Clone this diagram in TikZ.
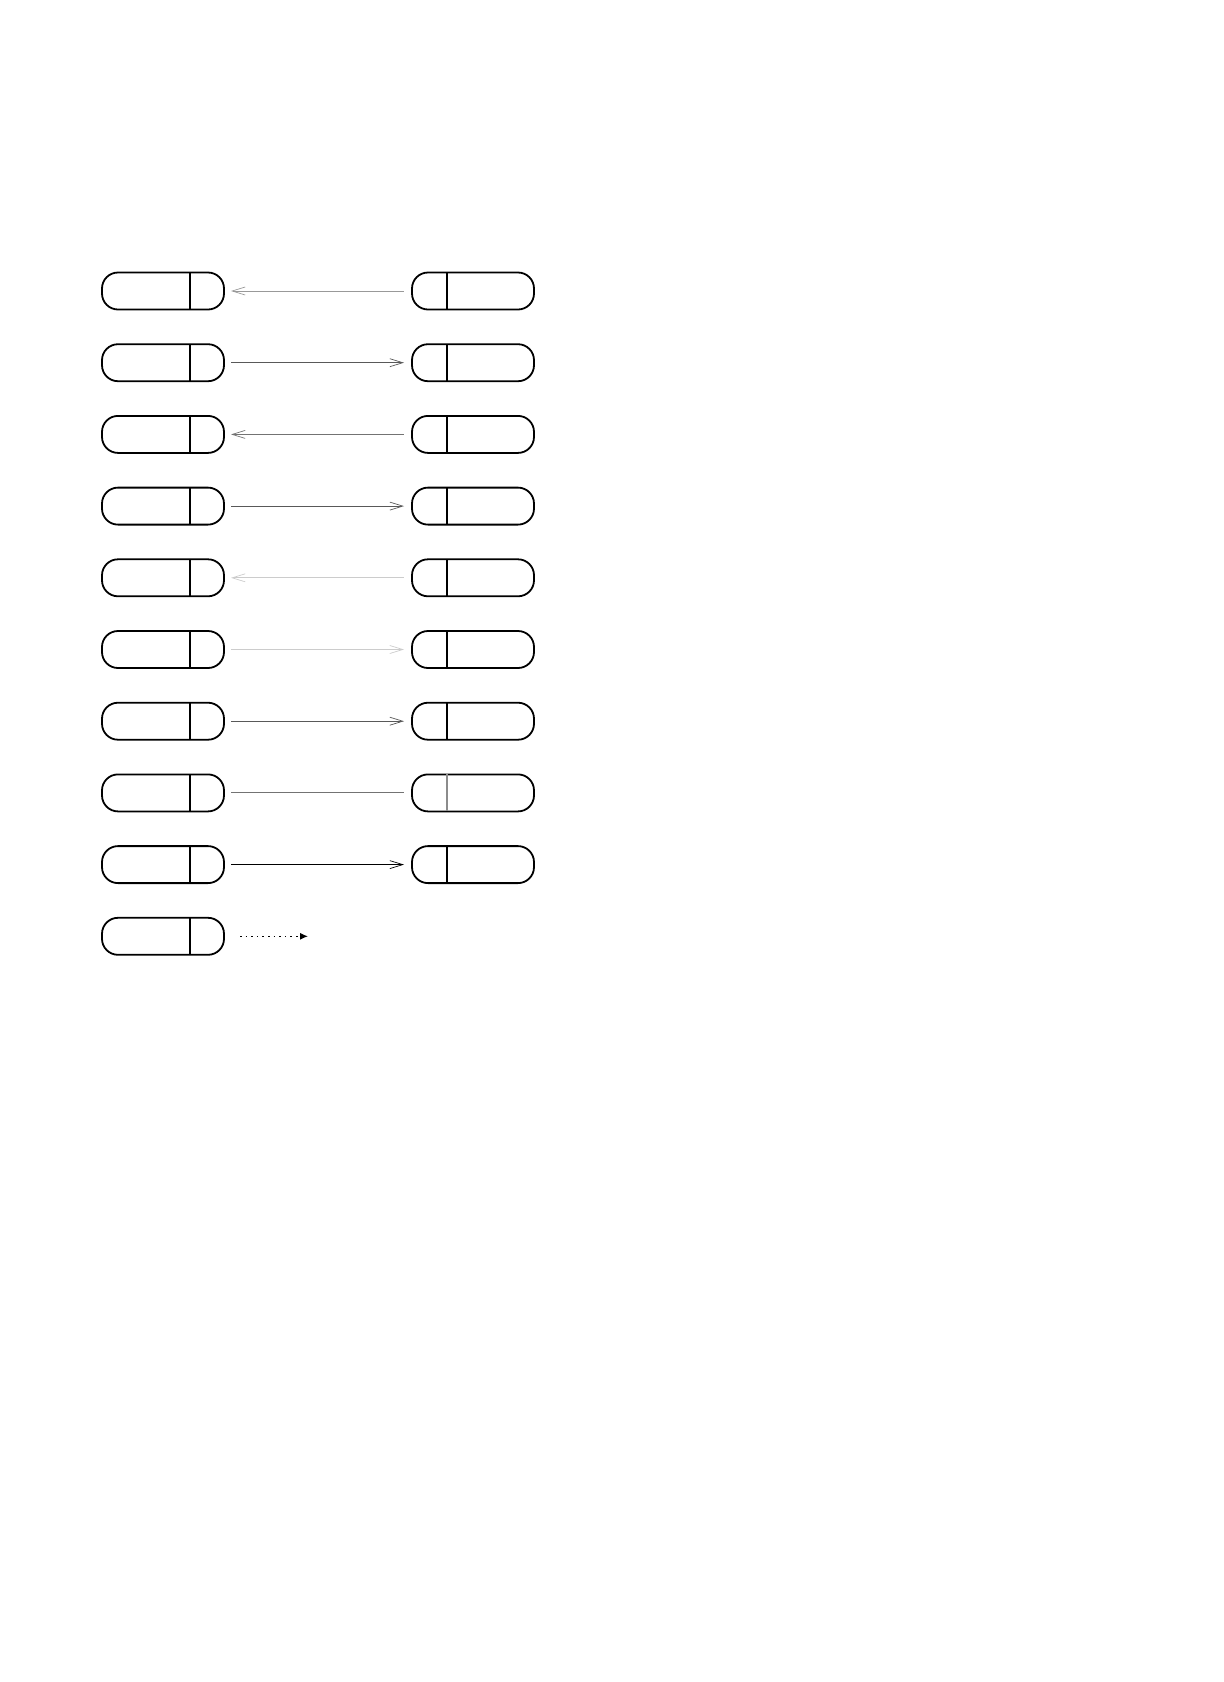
\documentclass[tikz,border=0pt]{standalone}
\usetikzlibrary{arrows.meta}
\begin{document}
\begin{tikzpicture}[
    x=1pt, y=1pt,
    cell/.style={draw, rounded corners=8pt, line width=0.9pt, minimum width=61pt, minimum height=18.5pt, inner sep=0pt, outer sep=0pt},
    link/.style={line width=0.5pt, shorten <=3.5pt, shorten >=4pt},
    >={Straight Barb[length=6.5pt,width=4pt,line width=0.35pt]}
]
\useasboundingbox (0,0) rectangle (612,-841);

% Left cells
\foreach \i in {1,...,10} {
    \node[cell] (L\i) at (81.5,-145.5-35.85*\i+35.85) {};
    \draw[line width=0.9pt] ([xshift=13.5pt]L\i.north) -- ([xshift=13.5pt]L\i.south);
}

% Right cells
\foreach \i/\col in {1/black,2/black,3/black,4/black,5/black,6/black,7/black,8/black!45,9/black} {
    \node[cell] (R\i) at (236.5,-145.5-35.85*\i+35.85) {};
    \draw[line width=0.9pt, draw=\col] ([xshift=-13pt]R\i.north) -- ([xshift=-13pt]R\i.south);
}

% Connections
\foreach \i/\tip/\col in {1/<-/black!40, 2/->/black!65, 3/<-/black!55, 4/->/black!65, 5/<-/black!20, 6/->/black!20, 7/->/black!65, 8/-/black!55, 9/->/black} {
    \draw[link, arrows/.expanded=\tip, draw=\col] (L\i) -- (R\i);
}

% Open end
\coordinate (E) at (154,-145.5-35.85*9);
\draw[line width=0.6pt, dash pattern=on 0.8pt off 2pt, shorten <=8pt, -{Latex[length=4pt,width=3.5pt]}] (L10) -- (E);
\end{tikzpicture}
\end{document}
